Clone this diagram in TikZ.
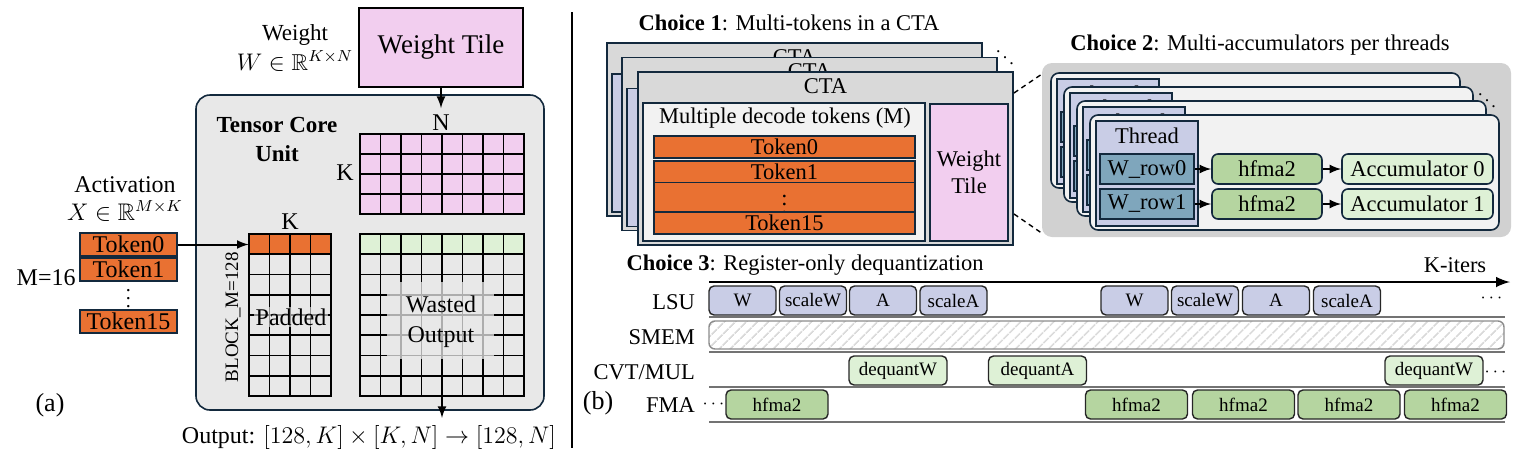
\documentclass[tikz,border=0pt]{standalone}
\usepackage{amsmath}
\usepackage{amssymb}
\usepackage{fontspec}
\setmainfont{Liberation Serif}
\usepackage{tikz}
\usetikzlibrary{arrows,positioning,patterns.meta}

\definecolor{edge}{HTML}{13293D}
\definecolor{tok}{HTML}{E97132}
\definecolor{pinkw}{HTML}{F2CEEF}
\definecolor{lgreen}{HTML}{DEF1D6}
\definecolor{mgreen}{HTML}{B5D5A0}
\definecolor{lav}{HTML}{C9CDE6}
\definecolor{steel}{HTML}{7FA6BC}
\definecolor{tcbg}{HTML}{E8E8E8}
\definecolor{cardgray}{HTML}{D9D9D9}
\definecolor{paper}{HTML}{F2F2F2}

\begin{document}
\begin{tikzpicture}[x=0.5pt,y=-0.5pt,font=\fontsize{11.25}{13.5}\selectfont,
  alab/.style={font=\fontsize{12}{14}\selectfont},
  tokstyle/.style={draw=edge,line width=0.8pt,fill=tok,inner sep=0pt},
  gridstyle/.style={line width=0.9pt},
  flow/.style={-latex,line width=1pt},
  ctacard/.style={draw=edge,line width=0.9pt,fill=cardgray,inner sep=0pt,minimum width=187.5pt,minimum height=86.5pt},
  tokpanel/.style={draw=edge,line width=0.8pt,inner sep=0pt,minimum width=141pt,minimum height=69pt},
  thrcard/.style={draw=edge,line width=0.8pt,fill=paper,rounded corners=4pt,inner sep=0pt,minimum width=204.5pt,minimum height=57.5pt},
  thrpanel/.style={draw=edge,line width=0.8pt,fill=lav,inner sep=0pt,minimum width=51pt,minimum height=52.5pt},
  wrow/.style={draw=edge,line width=0.8pt,fill=steel,inner sep=0pt,minimum width=47pt,minimum height=15pt},
  opbox/.style={draw=edge,line width=0.8pt,rounded corners=3pt,inner sep=0pt,minimum height=15pt},
  slot/.style={draw=black!85,line width=0.7pt,rounded corners=2.5pt,inner sep=0pt,minimum height=14.5pt,font=\fontsize{9.5}{11}\selectfont},
  rowlab/.style={anchor=east},
  biglab/.style={font=\fontsize{13}{15}\selectfont}]
\useasboundingbox (0,0) rectangle (1523,467);

% ---------- (a) tensor core with padded tokens
\node[font=\fontsize{11.5}{13}\selectfont] (wlab) at (295,35) {Weight};
\node[font=\fontsize{11.5}{13}\selectfont] (wset) at (295,61) {$W\in\mathbb{R}^{K\times N}$};
\node[draw=black,line width=0.9pt,fill=pinkw,minimum width=82pt,minimum height=39.5pt,font=\fontsize{13.5}{15}\selectfont] (wtile) at (441,47.5) {Weight Tile};
\node[draw=edge,line width=0.8pt,fill=tcbg,rounded corners=7pt,minimum width=174pt,minimum height=157.5pt] (tcu) at (370,252.5) {};
\node[font=\fontsize{11.5}{14.5}\selectfont\bfseries,align=center] (tcl) at (277,139) {Tensor Core\\Unit};
\node[alab] (nlab) at (441,123) {N};
\node[alab] (kb) at (345,173) {K};
\node[alab] (ka) at (290,222) {K};

\node[inner sep=0pt,minimum width=82pt,minimum height=40pt,fill=pinkw] (bgrid) at (442,174) {};
\foreach \i in {0,...,8} \draw[gridstyle] ({360+20.5*\i},134) -- ({360+20.5*\i},214);
\foreach \j in {0,...,4} \draw[gridstyle] (360,{134+20*\j}) -- (524,{134+20*\j});
\draw[gridstyle] (bgrid.north west) rectangle (bgrid.south east);

\node[inner sep=0pt,minimum width=41pt,minimum height=81pt] (agrid) at (290,315) {};
\fill[tok] (249,234) rectangle (331,254.25);
\foreach \i in {0,...,4} \draw[gridstyle] ({249+20.5*\i},234) -- ({249+20.5*\i},396);
\foreach \j in {0,...,8} \draw[gridstyle] (249,{234+20.25*\j}) -- (331,{234+20.25*\j});
\draw[gridstyle] (agrid.north west) rectangle (agrid.south east);

\node[inner sep=0pt,minimum width=82pt,minimum height=81pt] (cgrid) at (442,315) {};
\fill[lgreen] (360,234) rectangle (524,254.25);
\foreach \i in {0,...,8} \draw[gridstyle] ({360+20.5*\i},234) -- ({360+20.5*\i},396);
\foreach \j in {0,...,8} \draw[gridstyle] (360,{234+20.25*\j}) -- (524,{234+20.25*\j});
\draw[gridstyle] (cgrid.north west) rectangle (cgrid.south east);
\fill[tcbg,opacity=.75] (387,282) rectangle (494,359);

\node[font=\fontsize{12}{15}\selectfont,align=center] (wasted) at (441,322) {Wasted\\Output};
\node[alab,fill=tcbg,fill opacity=.6,text opacity=1,inner sep=1pt] (padded) at (291,317) {Padded};
\node[rotate=90,font=\fontsize{9.5}{11}\selectfont] (blk) at (233,317) {BLOCK\_M=128};

\node[alab] (act) at (125,185) {Activation};
\node[alab] (xset) at (125,211) {$X\in\mathbb{R}^{M\times K}$};
\node[alab,tokstyle,minimum width=48.5pt,minimum height=11.5pt] (tok0) at (128.5,244.5) {Token0};
\node[alab,tokstyle,minimum width=48.5pt,minimum height=11.5pt] (tok1) at (128.5,269.5) {Token1};
\node[font=\fontsize{10}{11}\selectfont] (tdots) at (128.5,293) {$\vdots$};
\node[alab,tokstyle,minimum width=48.5pt,minimum height=11.5pt] (tok15) at (128.5,321.5) {Token15};
\node[alab,anchor=east,inner sep=0pt] (mlab) at (76,278) {M=16};
\node[biglab] (pa) at (50,405) {(a)};
\node[alab] (outp) at (369,437) {Output: $[128,K]\times[K,N]\rightarrow[128,N]$};

\draw[flow] (wtile.south) -- (nlab.north);
\draw[flow] (tok0.east) -- (agrid.west |- tok0.east);
\draw[flow] (cgrid.south) -- (cgrid.south |- outp.north);

\coordinate (sep0) at (572,12);
\coordinate (sep1) at (572,448);
\draw[line width=0.8pt] (sep0) -- (sep1);

% ---------- (b) choice 1: CTA stack
\node (c1t) at (789,23) {\textbf{Choice 1}: Multi-tokens in a CTA};
\foreach \n/\dx/\dy in {1/0/0,2/15/14.5} {
  \node[ctacard] (cta\n) at (794.5+\dx,129.5+\dy) {};
  \node[anchor=north] (ctal\n) at (cta\n.north) {CTA};
  \node[tokpanel,fill=lav] (tokp\n) at (753+\dx,143+\dy) {};
}
\node[ctacard] (cta3) at (825.5,158.5) {};
\node[anchor=north] (ctal3) at (cta3.north) {CTA};
\node[tokpanel,fill=paper] (tokp3) at (784,172) {};
\node (mdt) at (785,118) {Multiple decode tokens (M)};
\foreach \t/\y in {Token0/147,Token1/172,{$\vdots$}/198,Token15/223}
  \node[tokstyle,minimum width=130.5pt,minimum height=11pt] (bar\y) at (784.5,\y) {\t};
\node[draw=edge,line width=0.9pt,fill=pinkw,align=center,minimum width=39pt,minimum height=68.5pt] (ctaw) at (969,172.5) {Weight\\Tile};
\node[font=\fontsize{9}{10}\selectfont] (c1dots) at (1005,52) {$\ddots$};

% ---------- choice 2: threads
\node (c2t) at (1260,45) {\textbf{Choice 2}: Multi-accumulators per threads};
\node[fill=black!18,rounded corners=5pt,minimum width=234.5pt,minimum height=87pt] (c2box) at (1276.5,150) {};
\coordinate (z1) at (1014,93);
\coordinate (z2) at (1014,214);
\coordinate (z3) at (1042,74);
\coordinate (z4) at (1043,234);
\draw[dash pattern=on 2.5pt off 2pt,line width=0.7pt] (z1) -- (z3) (z2) -- (z4);
\foreach \k in {0,...,3} {
  \node[thrcard] (card\k) at (1255.5+13*\k,130.5+14*\k) {};
  \node[thrpanel] (thp\k) at (1108+13*\k,131.5+14*\k) {};
  \node (thl\k) at (1108+13*\k,94+14*\k) {Thread};
  \node[wrow] (wra\k) at (1108+13*\k,127+14*\k) {W\_row0};
  \node[wrow] (wrb\k) at (1108+13*\k,162+14*\k) {W\_row1};
}
\node[opbox,fill=mgreen,minimum width=55pt] (hfa) at (1267,169) {hfma2};
\node[opbox,fill=mgreen,minimum width=55pt] (hfb) at (1267,204) {hfma2};
\node[opbox,fill=lgreen,minimum width=75.5pt] (acca) at (1417.5,169) {Accumulator 0};
\node[opbox,fill=lgreen,minimum width=75.5pt] (accb) at (1417.5,204) {Accumulator 1};
\draw[flow] (wra3) -- (hfa);
\draw[flow] (hfa) -- (acca);
\draw[flow] (wrb3) -- (hfb);
\draw[flow] (hfb) -- (accb);
\node[font=\fontsize{9}{10}\selectfont] (c2dots) at (1487,95) {$\ddots$};

% ---------- choice 3: pipeline
\node (c3t) at (805,265) {\textbf{Choice 3}: Register-only dequantization};
\coordinate (ax0) at (709,282);
\coordinate (ax1) at (1510,282);
\draw[-latex,line width=1.4pt] (ax0) -- (ax1);
\node (kit) at (1455,265) {K-iters};
\node[rowlab] (rlsu) at (702,302) {LSU};
\node[rowlab] (rsmem) at (702,337) {SMEM};
\node[rowlab] (rcvt) at (702,372) {CVT/MUL};
\node[rowlab] (rfma) at (702,405) {FMA};
\node[biglab] (pb) at (598,403) {(b)};
\foreach \y in {317,352,387,422} \draw[black!55,line width=0.6pt] (709,\y) -- (1505,\y);

\foreach \x/\t [count=\i] in {742.5/W,813/scaleW,883/A,953.5/scaleA,1134.5/W,1205/scaleW,1276/A,1347/scaleA}
  \node[slot,fill=lav,minimum width=33.5pt] (lsu\i) at (\x,300.5) {\t};
\node[draw=black!45,line width=0.7pt,rounded corners=3pt,inner sep=0pt,minimum width=397.5pt,minimum height=14pt,
  pattern={Lines[angle=45,distance=4pt,line width=0.9pt]},pattern color=black!15] (smem) at (1106.5,335) {};
\foreach \x/\t [count=\i] in {898/dequantW,1037.5/dequantA,1434/dequantW}
  \node[slot,fill=lgreen,minimum width=49pt] (cvt\i) at (\x,370.5) {\t};
\foreach \x [count=\i] in {777,1136.5,1243.5,1349,1455.5}
  \node[slot,fill=mgreen,minimum width=51pt] (fma\i) at (\x,404.5) {hfma2};
\node[font=\fontsize{9}{10}\selectfont] (d1) at (1493,298) {$\cdots$};
\node[font=\fontsize{9}{10}\selectfont] (d2) at (1497,372) {$\cdots$};
\node[font=\fontsize{9}{10}\selectfont] (d3) at (715,404) {$\cdots$};
\end{tikzpicture}
\end{document}
